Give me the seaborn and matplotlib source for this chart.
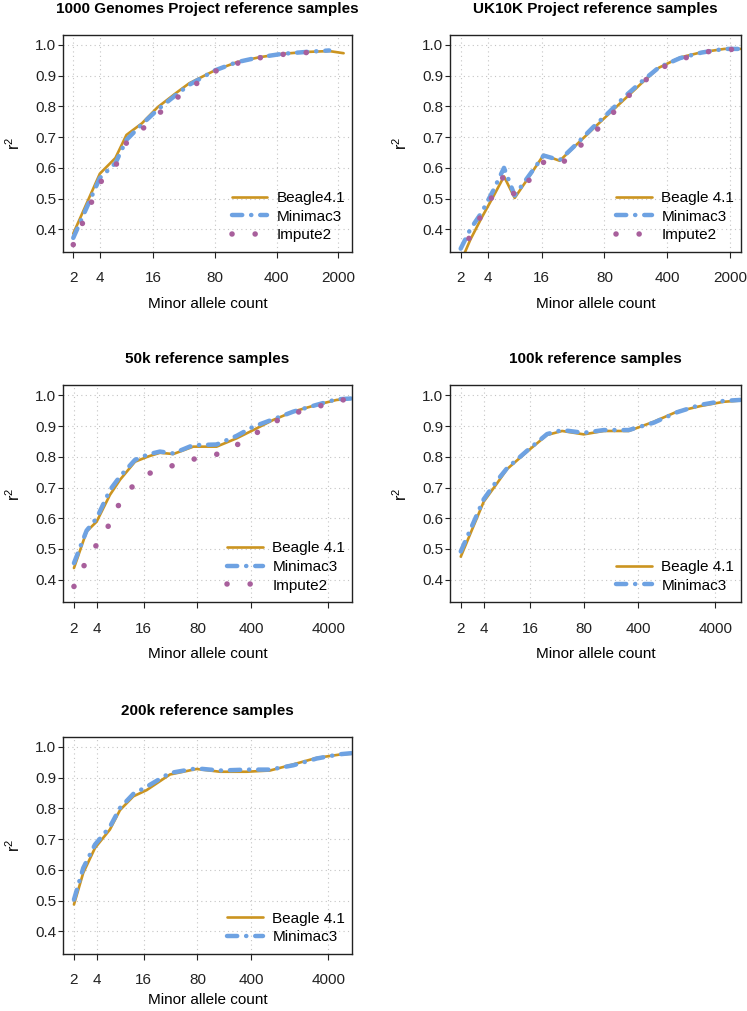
import numpy as np
import pandas as pd
import seaborn as sns
import matplotlib.pyplot as plt
from matplotlib.ticker import FixedLocator, FixedFormatter, NullLocator

sns.set_theme(style="ticks")
plt.rcParams['font.family'] = ['Liberation Sans', 'DejaVu Sans']
plt.rcParams['mathtext.fontset'] = 'custom'
plt.rcParams['mathtext.rm'] = 'Liberation Sans'
plt.rcParams['text.color'] = 'black'
plt.rcParams['axes.labelcolor'] = 'black'
plt.rcParams['xtick.color'] = '#222222'
plt.rcParams['ytick.color'] = '#222222'

nan = np.nan

# 1000 Genomes Project
g1k_mac = [2, 4, 6, 8, 12, 18, 29, 41, 80, 143, 257, 465, 856, 1580, 2300]
g1k_beagle = [0.386, 0.581, 0.632, 0.707, 0.745, 0.797, 0.843, 0.875, 0.917, 0.944, 0.960, 0.971, 0.977, 0.980, 0.973]
g1k_minimac = [0.372, 0.567, 0.615, 0.691, 0.742, 0.789, 0.837, 0.870, 0.917, 0.944, 0.960, 0.971, 0.977, 0.982, nan]
g1k_impute = [0.350, 0.551, 0.605, 0.681, 0.725, 0.773, 0.825, 0.858, 0.914, 0.940, 0.958, 0.969, 0.975, 0.979, nan]

# UK10K Project
uk_mac = [2, 2.56, 3.43, 4.59, 6.08, 8.0, 10.8, 16.8, 25.4, 39.3, 59.8, 90.9, 135, 207, 325, 558, 965, 1740, 2625]
uk_beagle = [0.293, 0.366, 0.438, 0.505, 0.572, 0.502, 0.558, 0.642, 0.623, 0.676, 0.727, 0.777, 0.824, 0.875, 0.926, 0.959, 0.976, 0.987, 0.987]
uk_minimac = [0.337, 0.400, 0.455, 0.525, 0.600, 0.510, 0.563, 0.640, 0.625, 0.678, 0.732, 0.782, 0.832, 0.880, 0.927, 0.957, 0.975, 0.987, 0.987]
uk_impute = [0.300, 0.382, 0.447, 0.511, 0.575, 0.510, 0.549, 0.618, 0.607, 0.661, 0.711, 0.765, 0.822, 0.874, 0.922, 0.952, 0.975, 0.985, 0.986]

# 50k reference samples
k50_mac = [2, 2.92, 3.94, 5.86, 7.91, 12.4, 18.4, 26.1, 38.9, 70.8, 142, 258, 425, 773, 1406, 2823, 5130, 8420]
k50_beagle = [0.438, 0.557, 0.589, 0.676, 0.725, 0.784, 0.801, 0.813, 0.809, 0.833, 0.833, 0.860, 0.887, 0.920, 0.947, 0.969, 0.985, 0.990]
k50_minimac = [0.454, 0.560, 0.600, 0.692, 0.736, 0.790, 0.808, 0.817, 0.811, 0.838, 0.840, 0.868, 0.898, 0.922, 0.947, 0.969, 0.987, 0.990]
k50_impute = [0.378, 0.463, 0.514, 0.583, 0.652, 0.714, 0.745, 0.757, 0.772, 0.792, 0.808, 0.838, 0.871, 0.912, 0.941, 0.962, 0.982, 0.990]

# 100k reference samples
k100_mac = [2, 3.97, 5.92, 7.97, 14.5, 26.3, 41.2, 78.6, 143, 301, 635, 1274, 2556, 5130, 8420]
k100_beagle = [0.475, 0.654, 0.714, 0.760, 0.817, 0.871, 0.884, 0.873, 0.884, 0.884, 0.914, 0.947, 0.965, 0.979, 0.983]
k100_minimac = [0.492, 0.662, 0.723, 0.763, 0.820, 0.874, 0.887, 0.878, 0.887, 0.887, 0.911, 0.945, 0.969, 0.982, 0.985]

# 200k reference samples
k200_mac = [2, 2.64, 3.75, 5.86, 7.91, 11.8, 17.5, 35.2, 78.2, 157, 349, 700, 1406, 2823, 5670, 8420]
k200_beagle = [0.487, 0.590, 0.671, 0.731, 0.794, 0.839, 0.859, 0.910, 0.928, 0.919, 0.919, 0.923, 0.943, 0.964, 0.975, 0.978]
k200_minimac = [0.503, 0.606, 0.682, 0.740, 0.801, 0.847, 0.870, 0.915, 0.930, 0.923, 0.926, 0.926, 0.940, 0.962, 0.976, 0.980]

ticks_small = [2, 4, 16, 80, 400, 2000]
ticks_large = [2, 4, 16, 80, 400, 4000]
y_ticks = [0.4, 0.5, 0.6, 0.7, 0.8, 0.9, 1.0]

panels = [
    ("1000 Genomes Project reference samples", "Beagle4.1", g1k_mac,
     g1k_beagle, g1k_minimac, g1k_impute, ticks_small, (1.53, 2860)),
    ("UK10K Project reference samples", "Beagle 4.1", uk_mac,
     uk_beagle, uk_minimac, uk_impute, ticks_small, (1.52, 2670)),
    ("50k reference samples", "Beagle 4.1", k50_mac,
     k50_beagle, k50_minimac, k50_impute, ticks_large, (1.44, 8130)),
    ("100k reference samples", "Beagle 4.1", k100_mac,
     k100_beagle, k100_minimac, None, ticks_large, (1.45, 8600)),
    ("200k reference samples", "Beagle 4.1", k200_mac,
     k200_beagle, k200_minimac, None, ticks_large, (1.44, 8130)),
]

positions = [
    (0.0843, 0.7507, 0.3869, 0.2146),
    (0.6024, 0.7507, 0.3896, 0.2146),
    (0.0843, 0.4041, 0.3869, 0.2146),
    (0.6024, 0.4041, 0.3896, 0.2146),
    (0.0843, 0.0564, 0.3869, 0.2146),
]

c_beagle = "#CB9420"
c_minimac = "#6EA2E2"
c_impute = "#A85F9C"

fs = 11

fig = plt.figure(figsize=(7.47, 10.11), dpi=100)

for i, ((title, blab, mac, beagle, minimac, impute, xt, xlim), pos) in enumerate(zip(panels, positions)):
    ax = fig.add_axes(pos)
    ax.set_xscale('log', base=2)

    df = pd.DataFrame({"mac": mac, "beagle": beagle, "minimac": minimac})
    if impute is not None:
        df["impute"] = impute

    d = df.dropna(subset=["beagle"])
    sns.lineplot(x="mac", y="beagle", data=d, ax=ax, color=c_beagle, lw=1.9,
                 label=blab, solid_capstyle='round', solid_joinstyle='round',
                 legend=False)
    d = df.dropna(subset=["minimac"])
    sns.lineplot(x="mac", y="minimac", data=d, ax=ax, color=c_minimac, lw=3.2,
                 linestyle=(0, (2.3, 2.0, 0.05, 2.0)), dash_capstyle='round',
                 label="Minimac3", legend=False)
    if impute is not None:
        d = df.dropna(subset=["impute"])
        sns.lineplot(x="mac", y="impute", data=d, ax=ax, color=c_impute, lw=4.0,
                     linestyle=(0, (0.01, 4.15)), dash_capstyle='round',
                     label="Impute2", legend=False)

    ax.set_xlim(*xlim)
    ax.set_ylim(0.326, 1.032)
    ax.xaxis.set_major_locator(FixedLocator(xt))
    ax.xaxis.set_major_formatter(FixedFormatter([str(t) for t in xt]))
    ax.xaxis.set_minor_locator(NullLocator())
    ax.yaxis.set_major_locator(FixedLocator(y_ticks))
    ax.yaxis.set_major_formatter(FixedFormatter(["%.1f" % v for v in y_ticks]))

    ax.grid(True, color="#C4C4C4", lw=0.8, linestyle=(0, (1, 3)))
    for s in ax.spines.values():
        s.set_visible(True)
        s.set_color("#222222")
        s.set_linewidth(1.0)

    ax.tick_params(axis='x', length=4.3, width=0.8, pad=9.5, labelsize=fs)
    ax.tick_params(axis='y', length=3.5, width=0.8, pad=1.5, labelsize=fs)

    ax.set_title(title, fontsize=fs, fontweight='bold', pad=16)
    ax.set_xlabel("Minor allele count", fontsize=fs)
    ax.set_ylabel(r"r$^{\mathregular{2}}$", fontsize=11.5)
    ax.xaxis.set_label_coords(0.5, -0.18 if i == 4 else -0.207)
    ax.yaxis.set_label_coords(-0.138, 0.5)

    ax.legend(loc='lower right', bbox_to_anchor=(0.99, 0.028), frameon=False,
              fontsize=fs, handlelength=2.35, handletextpad=0.6,
              labelspacing=0.3, borderpad=0.25, borderaxespad=0.0)

fig.savefig("out.png", dpi=100)
